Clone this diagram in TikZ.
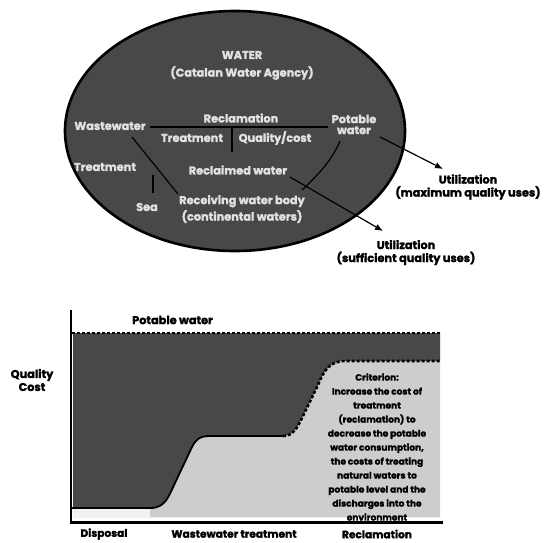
\documentclass[tikz,border=0pt]{standalone}
\usepackage{fontspec}
\setmainfont{Poppins}[BoldFeatures={FakeBold=1.6}]
\usetikzlibrary{arrows.meta}
\definecolor{darkfill}{RGB}{72,72,72}
\definecolor{lightfill}{RGB}{205,205,205}
\definecolor{inktext}{RGB}{225,225,225}
\tikzset{
  intext/.style={font=\fontsize{11.3}{12}\selectfont\bfseries, text=inktext, inner sep=0pt, align=center},
  outtext/.style={font=\fontsize{11.3}{13}\selectfont\bfseries, text=black, inner sep=0pt, align=center},
  axtext/.style={font=\fontsize{10.6}{12}\selectfont\bfseries, text=black, inner sep=0pt, align=center},
  crittext/.style={font=\fontsize{9}{14}\selectfont\bfseries, text=black, inner sep=0pt, align=center},
  flowline/.style={line width=1.2pt, black},
  utilarrow/.style={line width=1.2pt, black, -{Latex[length=8pt,width=6.5pt]}},
  dashcurve/.style={line width=2.6pt, black, dash pattern=on 3pt off 2pt},
}
\begin{document}
\begin{tikzpicture}[x=1pt,y=-1pt]
\path[use as bounding box, fill=white] (0,0) rectangle (545,542);

% ---------------- ellipse ----------------
\draw[fill=darkfill, line width=2.6pt] (235,131) ellipse [x radius=170pt, y radius=120pt];

\node[intext] (water) at (242,55) {WATER};
\node[intext] (agency) at (242,73) {(Catalan Water Agency)};
\node[intext] (reclam) at (241,118) {Reclamation};
\node[intext] (wastew) at (110,126) {Wastewater};
\node[intext] (potable) at (354,124.5) {Potable\\[-1pt]water};
\node[intext] (treat) at (192,138) {Treatment};
\node[intext] (qcost) at (275,138) {Quality/cost};
\node[intext] (reclwater) at (238,170) {Reclaimed water};
\node[intext] (treatL) at (105,167) {Treatment};
\node[intext] (sea) at (147,207) {Sea};
\node[intext] (recv) at (242,209) {Receiving water body\\[2pt](continental waters)};

% inner connectors
\coordinate (wwA) at (150,127);
\coordinate (potA) at (328,127);
\draw[flowline] (wwA) -- (potA);
\coordinate (midTop) at (232,127);
\coordinate (midBot) at (232,152);
\draw[flowline] (midTop) -- (midBot);
\coordinate (wwB) at (132,137);
\coordinate (recvA) at (178,194);
\draw[flowline] (wwB) -- (recvA);
\coordinate (seaTop) at (153,175);
\coordinate (seaBot) at (153,193);
\draw[flowline] (seaTop) -- (seaBot);
\coordinate (recvB) at (302,190);
\coordinate (potB) at (340,141);
\draw[flowline] (recvB) .. controls (318,175) and (332,160) .. (potB);

% utilization arrows
\node[outtext] (utilmax) at (468,187) {Utilization\\(maximum quality uses)};
\node[outtext] (utilsuf) at (406,252.5) {Utilization\\(sufficient quality uses)};
\coordinate (potC) at (380,137);
\coordinate (maxTip) at (443,169);
\draw[utilarrow] (potC) -- (maxTip);
\coordinate (reclC) at (290,177);
\coordinate (sufTip) at (383,231);
\draw[utilarrow] (reclC) -- (sufTip);

% ---------------- chart ----------------
\fill[gray!10] (73,509) rectangle (440,518);
\fill[lightfill] (150,508) .. controls (165,508) and (168,498) .. (175,483) -- (192,447)
  .. controls (196,439) and (200,436) .. (210,436) -- (283,436)
  .. controls (293,436) and (297,428) .. (302,418) -- (318,385)
  .. controls (324,370) and (330,361) .. (345,361) -- (440,361) -- (440,517) -- (150,517) -- cycle;
\fill[darkfill] (73,333) -- (440,333) -- (440,361) -- (345,361)
  .. controls (330,361) and (324,370) .. (318,385) -- (302,418)
  .. controls (297,428) and (293,436) .. (283,436) -- (210,436)
  .. controls (200,436) and (196,439) .. (192,447) -- (175,483)
  .. controls (168,498) and (165,508) .. (150,508) -- (73,508) -- cycle;

\coordinate (cStart) at (72,508);
\coordinate (cMid) at (283,436);
\coordinate (cHigh) at (345,361);
\coordinate (cEnd) at (440,361);
\draw[line width=1.8pt] (cStart) -- (150,508) .. controls (165,508) and (168,498) .. (175,483) -- (192,447)
  .. controls (196,439) and (200,436) .. (210,436) -- (cMid);
\draw[dashcurve] (cMid) .. controls (293,436) and (297,428) .. (302,418) -- (318,385)
  .. controls (324,370) and (330,361) .. (cHigh) -- (cEnd);
\coordinate (topL) at (72,333);
\coordinate (topR) at (440,333);
\draw[dashcurve] (topL) -- (topR);

\coordinate (origin) at (71,522.5);
\coordinate (yTop) at (71,310);
\coordinate (xEnd) at (443,522.5);
\draw[line width=2.6pt] (yTop) -- (origin) -- (xEnd);

\node[outtext, anchor=west] (potchart) at (132,320) {Potable water};
\node[outtext] (qualcost) at (32,380) {Quality\\Cost};
\node[axtext] (disposal) at (104,534) {Disposal};
\node[axtext] (wwtreat) at (234,534) {Wastewater treatment};
\node[axtext] (reclchart) at (377,534) {Reclamation};
\node[crittext] (crit) at (377,447) {Criterion:\\Increase the cost of\\treatment\\(reclamation) to\\decrease the potable\\water consumption,\\the costs of treating\\natural waters to\\potable level and the\\discharges into the\\environment};
\end{tikzpicture}
\end{document}
